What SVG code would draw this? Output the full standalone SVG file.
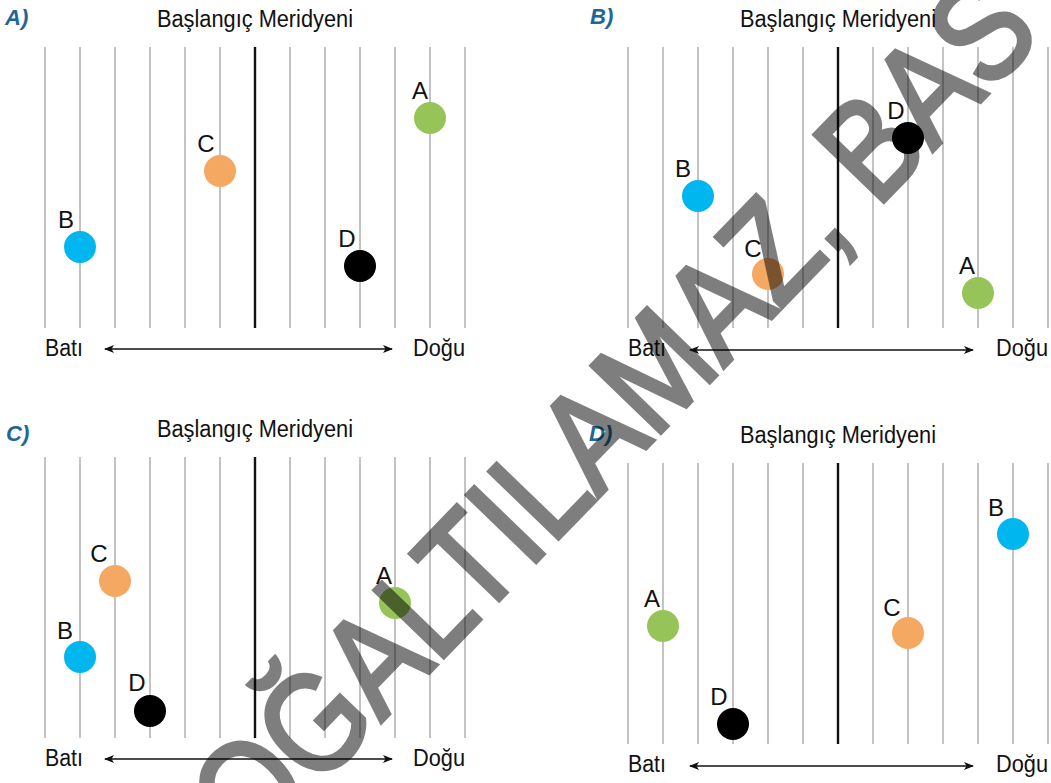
<svg xmlns="http://www.w3.org/2000/svg" width="1051" height="783" viewBox="0 0 1051 783">
<style>
.title{font-family:"Liberation Sans",Arial,sans-serif;font-size:23px;fill:#111;text-anchor:middle}
.dir{font-family:"Liberation Sans",Arial,sans-serif;font-size:23px;fill:#111}
.lbl{font-family:"Liberation Sans",Arial,sans-serif;font-size:24px;fill:#111;text-anchor:middle}
.opt{font-family:"Liberation Sans",Arial,sans-serif;font-size:22px;font-weight:bold;font-style:italic;fill:#1d6796}
.grid{stroke:#b4b4b4;stroke-width:1.6}
.pm{stroke:#111;stroke-width:2.4}
.arrow{stroke:#111;stroke-width:1.6;fill:none;marker-start:url(#ah);marker-end:url(#ah)}
.g{fill:#97c459}.o{fill:#f4a862}.b{fill:#00b6ee}.k{fill:#000}
.wm{font-family:"Liberation Sans",Arial,sans-serif;font-size:140px;fill:#000;stroke:#000;stroke-width:4.5}
</style>
<defs>
<marker id="ah" viewBox="0 0 10 8" refX="9" refY="4" markerWidth="10" markerHeight="8" markerUnits="userSpaceOnUse" orient="auto-start-reverse">
<path d="M0,0 L10,4 L0,8 L2.5,4 Z" fill="#111"/>
</marker>
<g id="grid">
<line class="grid" x1="45" y1="47" x2="45" y2="328"/>
<line class="grid" x1="80" y1="47" x2="80" y2="328"/>
<line class="grid" x1="115" y1="47" x2="115" y2="328"/>
<line class="grid" x1="150" y1="47" x2="150" y2="328"/>
<line class="grid" x1="185" y1="47" x2="185" y2="328"/>
<line class="grid" x1="220" y1="47" x2="220" y2="328"/>
<line class="grid" x1="290" y1="47" x2="290" y2="328"/>
<line class="grid" x1="325" y1="47" x2="325" y2="328"/>
<line class="grid" x1="360" y1="47" x2="360" y2="328"/>
<line class="grid" x1="395" y1="47" x2="395" y2="328"/>
<line class="grid" x1="430" y1="47" x2="430" y2="328"/>
<line class="grid" x1="465" y1="47" x2="465" y2="328"/>
<line class="pm" x1="255" y1="47" x2="255" y2="328"/>
<text class="title" x="255" y="27" textLength="196" lengthAdjust="spacingAndGlyphs">Başlangıç Meridyeni</text>
<text class="dir" x="45" y="356" textLength="38" lengthAdjust="spacingAndGlyphs">Batı</text>
<text class="dir" x="413" y="356" textLength="52" lengthAdjust="spacingAndGlyphs">Doğu</text>
</g>
</defs>

<g id="panel-a">
<use href="#grid"/>
<text class="opt" x="5" y="25">A)</text>
<g id="a-A"><circle class="g" cx="430" cy="118" r="16"/><text class="lbl" x="420" y="99">A</text></g>
<g id="a-C"><circle class="o" cx="220" cy="171" r="16"/><text class="lbl" x="206" y="152">C</text></g>
<g id="a-B"><circle class="b" cx="80" cy="247" r="16"/><text class="lbl" x="66" y="228">B</text></g>
<g id="a-D"><circle class="k" cx="360" cy="266" r="16"/><text class="lbl" x="347" y="247">D</text></g>
</g>

<g id="panel-b" transform="translate(583,0)">
<use href="#grid"/>
<text class="opt" x="7" y="24">B)</text>
<g id="b-D"><circle class="k" cx="325" cy="138" r="16"/><text class="lbl" x="313" y="119">D</text></g>
<g id="b-B"><circle class="b" cx="115" cy="196" r="16"/><text class="lbl" x="100" y="177">B</text></g>
<g id="b-C"><circle class="o" cx="185" cy="274" r="16"/><text class="lbl" x="170" y="257">C</text></g>
<g id="b-A"><circle class="g" cx="395" cy="293" r="16"/><text class="lbl" x="384" y="274">A</text></g>
</g>

<g id="panel-c" transform="translate(0,410)">
<use href="#grid"/>
<text class="opt" x="6" y="31">C)</text>
<g id="c-C"><circle class="o" cx="115" cy="171" r="16"/><text class="lbl" x="99" y="152">C</text></g>
<g id="c-A"><circle class="g" cx="395" cy="193" r="16"/><text class="lbl" x="384" y="174">A</text></g>
<g id="c-B"><circle class="b" cx="80" cy="247" r="16"/><text class="lbl" x="65" y="229">B</text></g>
<g id="c-D"><circle class="k" cx="150" cy="301" r="16"/><text class="lbl" x="137" y="281">D</text></g>
</g>

<g id="panel-d" transform="translate(583,416)">
<use href="#grid"/>
<text class="opt" x="6" y="25">D)</text>
<g id="d-B"><circle class="b" cx="430" cy="118" r="16"/><text class="lbl" x="413" y="100">B</text></g>
<g id="d-A"><circle class="g" cx="80" cy="210" r="16"/><text class="lbl" x="69" y="191">A</text></g>
<g id="d-C"><circle class="o" cx="325" cy="217" r="16"/><text class="lbl" x="309" y="200">C</text></g>
<g id="d-D"><circle class="k" cx="150" cy="308" r="16"/><text class="lbl" x="136" y="289">D</text></g>
</g>

<g id="connectors">
<line class="arrow" x1="105" y1="349" x2="392" y2="349"/>
<line class="arrow" x1="690" y1="350" x2="973" y2="350"/>
<line class="arrow" x1="105" y1="759" x2="392" y2="759"/>
<line class="arrow" x1="690" y1="766" x2="973" y2="766"/>
</g>

<g id="watermark" opacity="0.5">
<text class="wm" transform="translate(251,857) rotate(-46) scale(0.86,1)">OĞALTILAMAZ, BAS</text>
</g>
</svg>
